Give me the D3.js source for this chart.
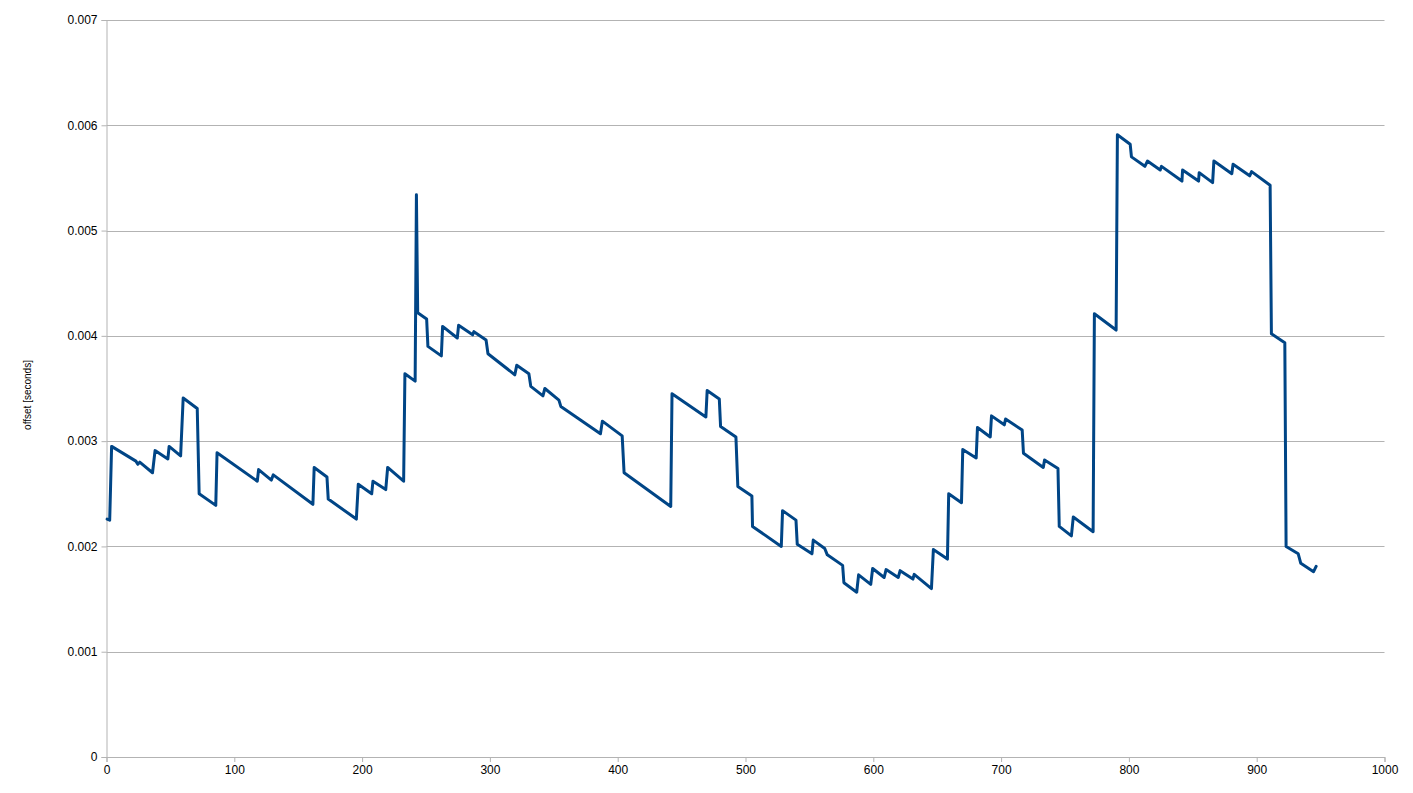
<!DOCTYPE html>
<html>
<head>
<meta charset="utf-8">
<script src="https://cdn.jsdelivr.net/npm/d3@7"></script>
<style>
  html, body { margin: 0; padding: 0; background: #fff; }
  svg { display: block; }
  text { font-family: "Liberation Sans", Arial, sans-serif; }
</style>
</head>
<body>
<svg id="chart" width="1413" height="793"></svg>
<script>
// sample index (x) values
const xValues = [
  0.5, 2.5, 4, 23, 24.5, 26, 36, 38, 48, 49, 58, 60, 71, 72.5, 85.5, 86.5,
  118, 119, 129, 130.5, 161.5, 162.5, 172.5, 173.5, 195.5, 197, 207.5, 208.5,
  218.5, 220, 232.5, 233.5, 241.5, 242.5, 243.5, 250.5, 251.5, 262, 263,
  274.5, 275.5, 286.5, 287.5, 297, 298.5, 319.5, 321, 330.5, 332, 341.5, 343,
  354, 355.5, 386.5, 388, 403.5, 405, 441.5, 442.5, 469, 470, 479.5, 480.5,
  492.5, 494, 505, 505.5, 528, 529, 539.5, 540.5, 552, 553, 562, 564, 576,
  577, 587, 588.5, 598, 599.5, 608.5, 610, 619.5, 621, 631, 632, 645.5, 647,
  658, 659, 669, 670, 680.5, 681.5, 691.5, 692.5, 702.5, 703.5, 716.5, 717.5,
  733, 734, 744.5, 745.5, 755, 756.5, 772, 773, 790, 791, 801, 802, 812.5,
  814.5, 824.5, 825.5, 841.5, 842, 854.5, 855, 865.5, 866.5, 880.5, 881.5,
  894.5, 896, 910.5, 911.5, 922, 923, 932.5, 934.5, 944.5, 946.5
];
// offset values in milliseconds (converted to seconds below)
const offsetMs = [
  2.26, 2.25, 2.95, 2.81, 2.78, 2.80, 2.70, 2.91, 2.83, 2.95, 2.86, 3.41, 3.31, 2.50, 2.39, 2.89,
  2.62, 2.73, 2.63, 2.68, 2.40, 2.75, 2.66, 2.45, 2.26, 2.59, 2.50, 2.62,
  2.54, 2.75, 2.62, 3.64, 3.57, 5.34, 4.22, 4.16, 3.90, 3.81, 4.09,
  3.98, 4.10, 4.01, 4.04, 3.96, 3.83, 3.63, 3.72, 3.64, 3.52, 3.43, 3.50,
  3.39, 3.33, 3.07, 3.19, 3.05, 2.70, 2.38, 3.45, 3.23, 3.48, 3.40, 3.14,
  3.04, 2.57, 2.48, 2.19, 2.00, 2.34, 2.25, 2.02, 1.93, 2.06, 1.98, 1.92, 1.82,
  1.655, 1.565, 1.73, 1.64, 1.79, 1.705, 1.78, 1.705, 1.77, 1.69, 1.735, 1.60, 1.97,
  1.88, 2.50, 2.415, 2.92, 2.84, 3.13, 3.04, 3.24, 3.155, 3.21, 3.105, 2.885,
  2.75, 2.82, 2.74, 2.19, 2.10, 2.28, 2.14, 4.21, 4.055, 5.91, 5.82, 5.70, 5.61,
  5.66, 5.575, 5.61, 5.47, 5.575, 5.47, 5.55, 5.455, 5.66, 5.54, 5.63,
  5.52, 5.56, 5.43, 4.02, 3.935, 2.00, 1.93, 1.84, 1.76, 1.81
];
const xTicks = [0, 100, 200, 300, 400, 500, 600, 700, 800, 900, 1000];
const yTicks = [0, 0.001, 0.002, 0.003, 0.004, 0.005, 0.006, 0.007];
const yTickLabels = ["0", "0.001", "0.002", "0.003", "0.004", "0.005", "0.006", "0.007"];
const yTitle = "offset [seconds]";

const data = xValues.map((xv, i) => ({ x: xv, y: offsetMs[i] / 1000 }));

const svg = d3.select("#chart");
const plotLeft = 106.5, plotRight = 1384.5, plotTop = 20, plotBottom = 757;

const xScale = d3.scaleLinear().domain([0, 1000]).range([plotLeft, plotRight]);
const yScale = d3.scaleLinear().domain([0, 0.007]).range([plotBottom, plotTop]);

// gridlines
svg.append("g")
  .selectAll("line")
  .data(yTicks)
  .join("line")
  .attr("x1", plotLeft).attr("x2", plotRight)
  .attr("y1", d => Math.round(yScale(d)) + 0.5).attr("y2", d => Math.round(yScale(d)) + 0.5)
  .attr("stroke", "#b3b3b3").attr("stroke-width", 1);

// y axis
const yAxis = d3.axisLeft(yScale)
  .tickValues(yTicks)
  .tickFormat((d, i) => yTickLabels[i])
  .tickSize(5)
  .tickPadding(4);
const gy = svg.append("g").attr("transform", `translate(${plotLeft},0)`).call(yAxis);
gy.select(".domain").attr("stroke", "#b3b3b3");
gy.selectAll(".tick line").attr("stroke", "#b3b3b3");
gy.selectAll("text").attr("font-size", 12).attr("fill", "#000")
  .attr("font-family", "'Liberation Sans', Arial, sans-serif");

// x axis
const xAxis = d3.axisBottom(xScale)
  .tickValues(xTicks)
  .tickFormat(d3.format("d"))
  .tickSize(5)
  .tickPadding(3);
const gx = svg.append("g").attr("transform", `translate(0,${plotBottom})`).call(xAxis);
gx.select(".domain").attr("stroke", "#b3b3b3");
gx.selectAll(".tick line").attr("stroke", "#b3b3b3");
gx.selectAll("text").attr("font-size", 12).attr("fill", "#000")
  .attr("font-family", "'Liberation Sans', Arial, sans-serif");

// y axis title
svg.append("text")
  .attr("transform", `translate(28,395) rotate(-90)`)
  .attr("text-anchor", "middle")
  .attr("dominant-baseline", "middle")
  .attr("font-size", 10)
  .attr("fill", "#000")
  .text(yTitle);

// line
const line = d3.line().x(d => xScale(d.x)).y(d => yScale(d.y));
svg.append("path")
  .datum(data)
  .attr("d", line)
  .attr("fill", "none")
  .attr("stroke", "#004586")
  .attr("stroke-width", 3)
  .attr("stroke-linejoin", "round")
  .attr("stroke-linecap", "round");
</script>
</body>
</html>
